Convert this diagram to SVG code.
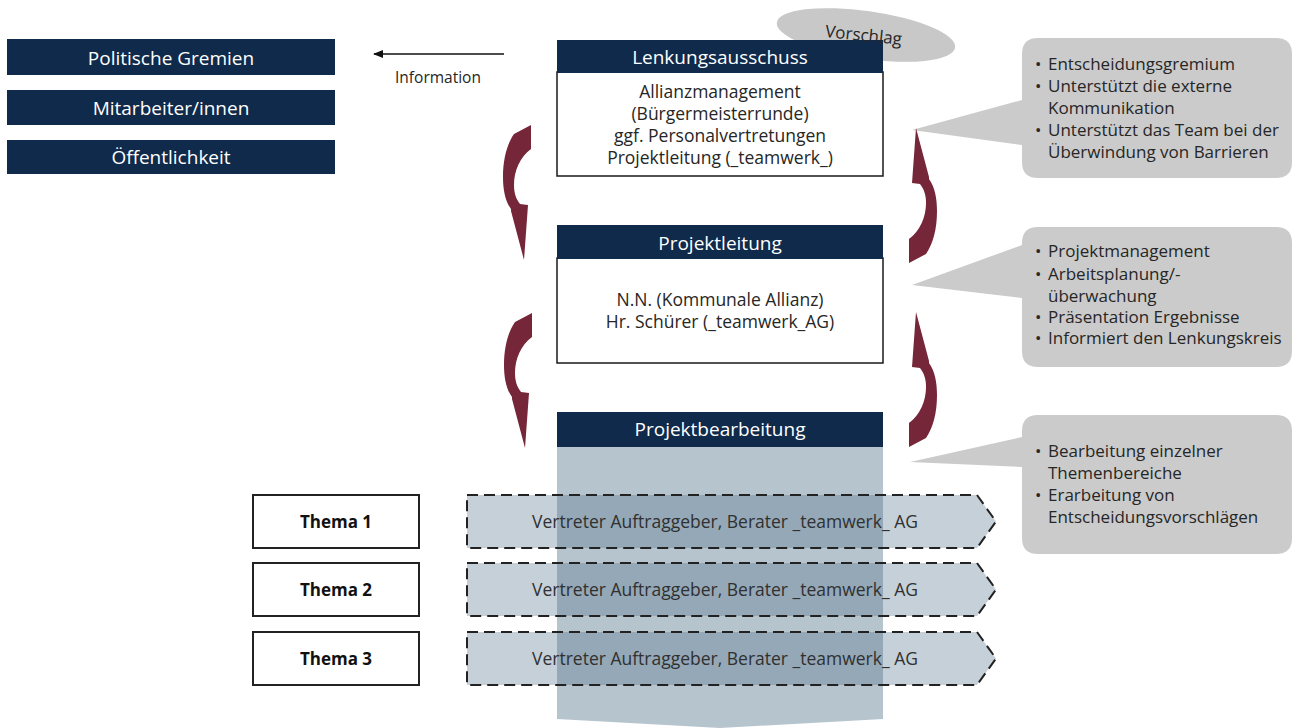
<svg xmlns="http://www.w3.org/2000/svg" width="1293" height="728" viewBox="0 0 1293 728">
<style>
.hdr{fill:#0f2a4b}
.hdrt{font-family:"Open Sans","Liberation Sans",sans-serif;font-size:19px;fill:#fff;text-anchor:middle}
.body{fill:#fff;stroke:#1a1a1a;stroke-width:1.5}
.bt{font-family:"Open Sans","Liberation Sans",sans-serif;font-size:17.5px;fill:#262626;text-anchor:middle}
.call{fill:#cbcbcb}
.ct{font-family:"Open Sans","Liberation Sans",sans-serif;font-size:17px;fill:#262626}
.row{fill:#4f6f8a;fill-opacity:0.33;stroke:#222;stroke-width:2;stroke-dasharray:11 6}
.rt{font-family:"Open Sans","Liberation Sans",sans-serif;font-size:17.5px;fill:#303030;text-anchor:middle}
.thema{fill:#fff;stroke:#222;stroke-width:2}
.tt{font-family:"Open Sans","Liberation Sans",sans-serif;font-size:17px;font-weight:bold;fill:#111;text-anchor:middle}
.curv{fill:#752638}
</style>
<defs>
<path id="carrow" d="M 12,9 L 29,0 L 29,24 C 18,32 12,46 12,60 C 12,68 14,74 18,79 L 26,80 L 22,135 L 9,86 L 9,84 C 3,76 1,64 1,52 C 1,34 5,19 12,9 Z"/>
<marker id="ah" markerWidth="10" markerHeight="8" refX="9" refY="4" orient="auto" markerUnits="userSpaceOnUse">
<path d="M0,0 L10,4 L0,8 Z" fill="#111"/>
</marker>
</defs>

<g id="vorschlag-bg">
<ellipse cx="866" cy="35" rx="90" ry="24" transform="rotate(8 866 35)" fill="#c8c8c8"/>
</g>

<g id="politische-gremien">
<rect x="7" y="39" width="328" height="36" class="hdr"/>
<text x="171" y="64.5" class="hdrt">Politische Gremien</text>
</g>
<g id="mitarbeiter">
<rect x="7" y="90" width="328" height="35" class="hdr"/>
<text x="171" y="115" class="hdrt">Mitarbeiter/innen</text>
</g>
<g id="oeffentlichkeit">
<rect x="7" y="140" width="328" height="34" class="hdr"/>
<text x="171" y="164" class="hdrt">Öffentlichkeit</text>
</g>

<g id="lenkungsausschuss">
<rect x="557" y="72" width="326" height="104" class="body"/>
<rect x="557" y="40" width="326" height="33" class="hdr"/>
<text x="720" y="63.5" class="hdrt">Lenkungsausschuss</text>
<text x="720" y="98" class="bt">Allianzmanagement</text>
<text x="720" y="120" class="bt">(Bürgermeisterrunde)</text>
<text x="720" y="142" class="bt">ggf. Personalvertretungen</text>
<text x="720" y="164" class="bt">Projektleitung (_teamwerk_)</text>
</g>

<g id="vorschlag">
<text x="863" y="41" transform="rotate(6 863 41)" font-family="'Open Sans','Liberation Sans',sans-serif" font-size="17" fill="#262626" text-anchor="middle">Vorschlag</text>
</g>

<g id="projektleitung">
<rect x="557" y="258" width="326" height="105" class="body"/>
<rect x="557" y="225" width="326" height="34" class="hdr"/>
<text x="720" y="249.5" class="hdrt">Projektleitung</text>
<text x="720" y="306" class="bt">N.N. (Kommunale Allianz)</text>
<text x="720" y="328" class="bt">Hr. Schürer (_teamwerk_AG)</text>
</g>

<g id="projektbearbeitung">
<path d="M557,446 L883,446 L883,719 L720,728 L557,719 Z" fill="#b6c4ce"/>
<rect x="557" y="412" width="326" height="35" class="hdr"/>
<text x="720" y="435.5" class="hdrt">Projektbearbeitung</text>
</g>

<g id="thema1">
<rect x="253" y="495" width="166" height="53" class="thema"/>
<text x="336" y="527.5" class="tt">Thema 1</text>
<path d="M467,495 L977,495 L996,521.5 L977,548 L467,548 Z" class="row"/>
<text x="725" y="527.5" class="rt">Vertreter Auftraggeber, Berater _teamwerk_ AG</text>
</g>
<g id="thema2">
<rect x="253" y="563" width="166" height="53" class="thema"/>
<text x="336" y="595.5" class="tt">Thema 2</text>
<path d="M467,563 L977,563 L996,589.5 L977,616 L467,616 Z" class="row"/>
<text x="725" y="595.5" class="rt">Vertreter Auftraggeber, Berater _teamwerk_ AG</text>
</g>
<g id="thema3">
<rect x="253" y="632" width="166" height="53" class="thema"/>
<text x="336" y="664.5" class="tt">Thema 3</text>
<path d="M467,632 L977,632 L996,658.5 L977,685 L467,685 Z" class="row"/>
<text x="725" y="664.5" class="rt">Vertreter Auftraggeber, Berater _teamwerk_ AG</text>
</g>

<g id="callout1">
<path d="M1038,38 L1276,38 Q1292,38 1292,54 L1292,162 Q1292,178 1276,178 L1038,178 Q1022,178 1022,162 L1022,145 L912,130 L1022,100 L1022,54 Q1022,38 1038,38 Z" class="call"/>
<text class="ct"><tspan x="1035" y="70">•</tspan><tspan x="1048" y="70">Entscheidungsgremium</tspan>
<tspan x="1035" y="92">•</tspan><tspan x="1048" y="92">Unterstützt die externe</tspan>
<tspan x="1048" y="114">Kommunikation</tspan>
<tspan x="1035" y="136">•</tspan><tspan x="1048" y="136">Unterstützt das Team bei der</tspan>
<tspan x="1048" y="158">Überwindung von Barrieren</tspan></text>
</g>

<g id="callout2">
<path d="M1038,227 L1276,227 Q1292,227 1292,243 L1292,351 Q1292,367 1276,367 L1038,367 Q1022,367 1022,351 L1022,298 L912,285 L1022,245 L1022,243 Q1022,227 1038,227 Z" class="call"/>
<text class="ct"><tspan x="1035" y="257">•</tspan><tspan x="1048" y="257">Projektmanagement</tspan>
<tspan x="1035" y="280">•</tspan><tspan x="1048" y="280">Arbeitsplanung/-</tspan>
<tspan x="1048" y="302">überwachung</tspan>
<tspan x="1035" y="323">•</tspan><tspan x="1048" y="323">Präsentation Ergebnisse</tspan>
<tspan x="1035" y="344">•</tspan><tspan x="1048" y="344">Informiert den Lenkungskreis</tspan></text>
</g>

<g id="callout3">
<path d="M1038,415 L1276,415 Q1292,415 1292,431 L1292,538 Q1292,554 1276,554 L1038,554 Q1022,554 1022,538 L1022,467 L910,462 L1022,437 L1022,431 Q1022,415 1038,415 Z" class="call"/>
<text class="ct"><tspan x="1035" y="457">•</tspan><tspan x="1048" y="457">Bearbeitung einzelner</tspan>
<tspan x="1048" y="479">Themenbereiche</tspan>
<tspan x="1035" y="501">•</tspan><tspan x="1048" y="501">Erarbeitung von</tspan>
<tspan x="1048" y="523">Entscheidungsvorschlägen</tspan></text>
</g>

<g id="connectors">
<line x1="504" y1="54" x2="374" y2="54" stroke="#111" stroke-width="1.6" marker-end="url(#ah)"/>
<text x="438" y="83" font-family="'Open Sans','Liberation Sans',sans-serif" font-size="15.5" fill="#262626" text-anchor="middle">Information</text>
<use href="#carrow" class="curv" transform="translate(502,125)"/>
<use href="#carrow" class="curv" transform="translate(503,313)"/>
<use href="#carrow" class="curv" transform="translate(938,263) rotate(180)"/>
<use href="#carrow" class="curv" transform="translate(938,447) rotate(180)"/>
</g>
</svg>
